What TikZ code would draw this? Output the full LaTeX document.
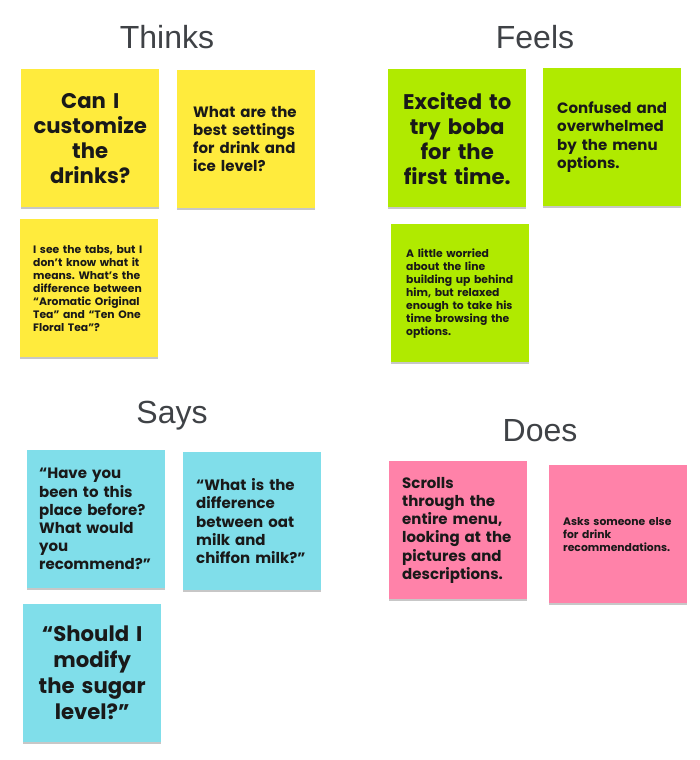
\documentclass[tikz,border=0pt]{standalone}
\usepackage{fontspec}
\setmainfont{Liberation Sans}
\newfontfamily\notefont{Poppins}
\usetikzlibrary{shadows}
\definecolor{titlegrey}{HTML}{3F4246}
\definecolor{noteyellow}{HTML}{FFEB3D}
\definecolor{notegreen}{HTML}{B0EA00}
\definecolor{notecyan}{HTML}{80DEEA}
\definecolor{notepink}{HTML}{FF82A9}
\tikzset{
  x=1pt, y=-1pt,
  title/.style={font=\fontsize{32}{36}\selectfont, text=titlegrey, inner sep=0pt},
  note/.style={minimum width=138pt, minimum height=138pt, anchor=north west,
    drop shadow={shadow xshift=0pt, shadow yshift=-1.5pt, opacity=0.22, fill=black},
    text=black!90},
  bignote/.style={note, align=center, text width=132pt, inner sep=3pt,
    font=\notefont\bfseries\frenchspacing\fontsize{21.2}{25}\selectfont},
  midtext/.style={anchor=west, align=left, text width=#1, inner sep=0pt, text=black!90,
    font=\notefont\bfseries\frenchspacing\fontsize{15}{18.2}\selectfont},
  smalltext/.style={anchor=west, align=left, text width=#1, inner sep=0pt, text=black!90,
    font=\notefont\bfseries\frenchspacing\fontsize{10.8}{13}\selectfont},
}
\begin{document}
\begin{tikzpicture}
\useasboundingbox[fill=white] (0,0) rectangle (700,760);
% titles
\node[title] (tThinks) at (167,37) {Thinks};
\node[title] (tFeels) at (535,37) {Feels};
\node[title] (tSays) at (172,416) {Says};
\node[title] (tDoes) at (540,431) {Does};
% Thinks
\node[bignote, fill=noteyellow] (th1) at (21,69) {Can I\\customize\\the\\drinks?};
\node[fill=noteyellow, note] (th2box) at (177,70) {};
\node[midtext=120pt] (th2) at ([xshift=16pt]th2box.west) {What are the\\best settings\\for drink and\\ice level?};
\node[fill=noteyellow, note] (th3box) at (20,219) {};
\node[smalltext=122pt] (th3) at ([xshift=13pt]th3box.west) {I see the tabs, but I\\don’t know what it\\means. What’s the\\difference between\\“Aromatic Original\\Tea” and “Ten One\\Floral Tea”?};
% Feels
\node[bignote, fill=notegreen] (fe1) at (388,69) {Excited to\\try boba\\for the\\first time.};
\node[fill=notegreen, note] (fe2box) at (543,68) {};
\node[midtext=122pt] (fe2) at ([xshift=14pt]fe2box.west) {Confused and\\overwhelmed\\by the menu\\options.};
\node[fill=notegreen, note] (fe3box) at (391,224) {};
\node[smalltext=122pt] (fe3) at ([xshift=15pt]fe3box.west) {A little worried\\about the line\\building up behind\\him, but relaxed\\enough to take his\\time browsing the\\options.};
% Says
\node[fill=notecyan, note] (sa1box) at (27,450) {};
\node[midtext=124pt] (sa1) at ([xshift=12pt]sa1box.west) {“Have you\\been to this\\place before?\\What would\\you\\recommend?”};
\node[fill=notecyan, note] (sa2box) at (183,452) {};
\node[midtext=124pt] (sa2) at ([xshift=13pt]sa2box.west) {“What is the\\difference\\between oat\\milk and\\chiffon milk?”};
\node[bignote, fill=notecyan, font=\notefont\bfseries\frenchspacing\fontsize{21.2}{26}\selectfont] (sa3) at (23,604) {“Should I\\modify\\the sugar\\level?”};
% Does
\node[fill=notepink, note] (do1box) at (389,461) {};
\node[midtext=124pt] (do1) at ([xshift=13pt]do1box.west) {Scrolls\\through the\\entire menu,\\looking at the\\pictures and\\descriptions.};
\node[fill=notepink, note] (do2box) at (549,465) {};
\node[smalltext=122pt] (do2) at ([xshift=14pt]do2box.west) {Asks someone else\\for drink\\recommendations.};
\end{tikzpicture}
\end{document}
